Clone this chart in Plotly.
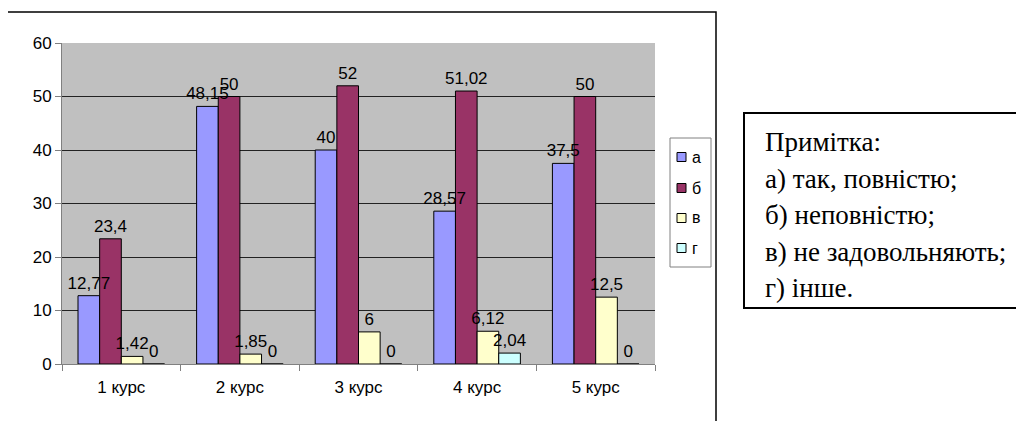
import plotly.graph_objects as go

categories = ["1 курс", "2 курс", "3 курс", "4 курс", "5 курс"]
series_names = ["а", "б", "в", "г"]
values_a = [12.77, 48.15, 40, 28.57, 37.5]
values_b = [23.4, 50, 52, 51.02, 50]
values_v = [1.42, 1.85, 6, 6.12, 12.5]
values_g = [0, 0, 0, 2.04, 0]
colors = ["#9999FF", "#993366", "#FFFFCC", "#CCFFFF"]
note_lines = ["Примітка:", "а) так, повністю;", "б) неповністю;", "в) не задовольняють;", "г) інше."]

OFF = 8  # browser default body margin
W, H = 1024 - OFF, 421 - OFF
L, R, T, B = 62 - OFF, 655 - OFF, 43 - OFF, 364 - OFF

def px(x):
    return (x - OFF - L) / (R - L)

def py(y):
    return (B - (y - OFF)) / (B - T)

def fmt(v):
    return ("%g" % v).replace(".", ",")

FONT = "Liberation Sans"
SERIF = "Times New Roman, Liberation Serif, DejaVu Serif, serif"

fig = go.Figure()
all_vals = [values_a, values_b, values_v, values_g]
# bars
for k, (name, vals, col) in enumerate(zip(series_names, all_vals, colors)):
    fig.add_trace(go.Bar(
        x=categories, y=vals, name=name, offsetgroup=str(k),
        marker=dict(color=col, line=dict(color="black", width=1)),
        showlegend=False, hoverinfo="skip",
    ))
# value labels on top of every bar (drawn after all bars)
for k, (name, vals) in enumerate(zip(series_names, all_vals)):
    fig.add_trace(go.Bar(
        x=categories, y=vals, name=name, offsetgroup=str(k),
        marker=dict(color="rgba(0,0,0,0)", line=dict(width=0)),
        text=[fmt(v) for v in vals], textposition="outside",
        constraintext="none", textangle=0,
        textfont=dict(family=FONT, size=17, color="black"),
        cliponaxis=False, showlegend=False,
    ))

fig.update_layout(
    width=W, height=H,
    margin=dict(l=L, r=W - R, t=T, b=H - B),
    paper_bgcolor="white",
    plot_bgcolor="#C0C0C0",
    barmode="group",
    bargap=0.27,
    bargroupgap=0,
    font=dict(family=FONT, size=17, color="black"),
    showlegend=False,
)
fig.update_yaxes(
    range=[0, 60], dtick=10, showgrid=True, gridcolor="#222222", gridwidth=1,
    ticks="outside", ticklen=6, tickcolor="#808080",
    showline=True, linecolor="#808080", zeroline=False,
    tickfont=dict(family=FONT, size=17),
)
fig.update_xaxes(
    showline=True, linecolor="#808080", ticks="outside", tickson="boundaries",
    ticklen=6, tickcolor="#808080", tickfont=dict(family=FONT, size=17),
    ticklabelstandoff=8,
)

# outer chart frame
fig.add_shape(type="rect", xref="paper", yref="paper",
              x0=px(7), x1=px(716), y0=py(430), y1=py(12),
              line=dict(color="black", width=1.5), fillcolor="rgba(0,0,0,0)", layer="below")

# legend (drawn manually to match compact Excel legend)
fig.add_shape(type="rect", xref="paper", yref="paper",
              x0=px(670), x1=px(711), y0=py(267), y1=py(138),
              line=dict(color="#808080", width=1), fillcolor="white")
legend_y = [157, 188, 218, 248]
for name, col, ly in zip(series_names, colors, legend_y):
    fig.add_shape(type="rect", xref="paper", yref="paper",
                  x0=px(677), x1=px(686), y0=py(ly + 4.5), y1=py(ly - 4.5),
                  line=dict(color="black", width=1), fillcolor=col)
    fig.add_annotation(xref="paper", yref="paper", x=px(690), y=py(ly),
                       xanchor="left", yanchor="middle", showarrow=False, text=name,
                       font=dict(family=FONT, size=16, color="black"))

# note box
fig.add_shape(type="rect", xref="paper", yref="paper",
              x0=px(744), x1=px(1021), y0=py(308), y1=py(113),
              line=dict(color="black", width=2), fillcolor="white")
for i, line in enumerate(note_lines):
    fig.add_annotation(
        xref="paper", yref="paper", x=px(763), y=py(142 + 36.5 * i),
        xanchor="left", yanchor="middle", showarrow=False, text=line,
        font=dict(family=SERIF, size=27, color="black"),
    )

fig.write_html("out.html")
